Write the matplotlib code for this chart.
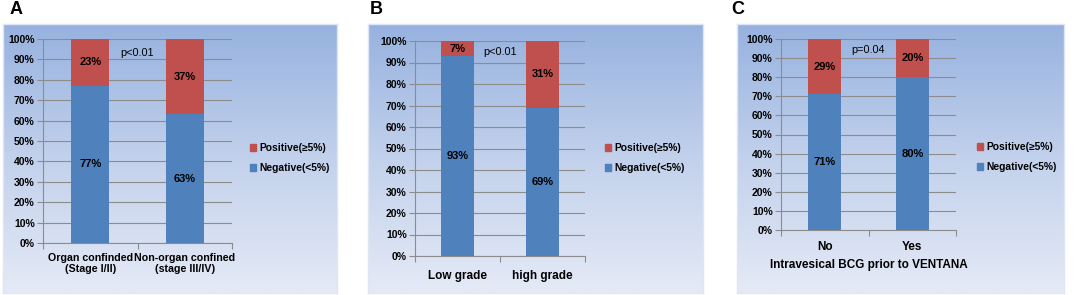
import numpy as np
import matplotlib.pyplot as plt
from matplotlib.colors import LinearSegmentedColormap
from matplotlib.patches import Patch

# data
cats_a = ['Organ confinded\n(Stage I/II)', 'Non-organ confined\n(stage III/IV)']
neg_a = [77, 63]
pos_a = [23, 37]

cats_b = ['Low grade', 'high grade']
neg_b = [93, 69]
pos_b = [7, 31]

cats_c = ['No', 'Yes']
neg_c = [71, 80]
pos_c = [29, 20]

pvals = ['p<0.01', 'p<0.01', 'p=0.04']
letters = ['A', 'B', 'C']
xlabels = ['', '', 'Intravesical BCG prior to VENTANA']

BLUE = '#4f81bd'
RED = '#c0504d'
W, H = 1074, 295

plt.rcParams['font.family'] = ['Liberation Sans', 'DejaVu Sans']

fig = plt.figure(figsize=(W / 100, H / 100), dpi=100)
fig.patch.set_facecolor('white')

grad = LinearSegmentedColormap.from_list('bg', ['#97b2df', '#c2d1ec', '#e5eaf6'])


def box(x0, y0, x1, y1):
    return [x0 / W, 1 - y1 / H, (x1 - x0) / W, (y1 - y0) / H]


# panel background boxes, plot area, legend position, letter position, p text y
panels = [
    dict(bg=(3, 24, 337, 293), ax=(43, 39, 232, 243), leg=(250, 158), let=(10, 10), py=93, w=0.4, pad=7, cfs=7.7),
    dict(bg=(368, 24, 703, 293), ax=(415, 41, 585, 256), leg=(605, 158), let=(370, 10), py=95, w=0.39, pad=10, cfs=8.5),
    dict(bg=(737, 24, 1064, 293), ax=(781, 39, 956, 230), leg=(977, 157), let=(731, 10), py=94, w=0.38, pad=8, cfs=8.5),
]
data = [(cats_a, neg_a, pos_a), (cats_b, neg_b, pos_b), (cats_c, neg_c, pos_c)]

for i, (p, (cats, neg, pos)) in enumerate(zip(panels, data)):
    bg = fig.add_axes(box(*p['bg']), zorder=0)
    bg.imshow(np.linspace(0, 1, 256).reshape(-1, 1), aspect='auto', cmap=grad,
              extent=[0, 1, 0, 1])
    bg.set_xticks([])
    bg.set_yticks([])
    for s in bg.spines.values():
        s.set_color('#dfe5f1')
        s.set_linewidth(1)

    ax = fig.add_axes(box(*p['ax']), zorder=1)
    ax.patch.set_alpha(0)
    x = np.arange(len(cats))
    ax.bar(x, neg, p['w'], color=BLUE, zorder=2, label='Negative(<5%)')
    ax.bar(x, pos, p['w'], bottom=neg, color=RED, zorder=2, label='Positive(≥5%)')
    for xi, n, q in zip(x, neg, pos):
        ax.text(xi, n / 2, f'{n}%', ha='center', va='center', fontsize=8,
                fontweight='bold', color='black', zorder=3)
        ax.text(xi, n + q / 2, f'{q}%', ha='center', va='center', fontsize=8,
                fontweight='bold', color='black', zorder=3)
    ax.text(0.5, p['py'], pvals[i], ha='center', va='center', fontsize=7.8,
            color='black', zorder=3)

    ax.set_xlim(-0.5, 1.5)
    ax.set_ylim(0, 100)
    ax.set_yticks(range(0, 101, 10))
    ax.set_yticklabels([f'{v}%' for v in range(0, 101, 10)], fontsize=7.5,
                       fontweight='bold')
    ax.yaxis.grid(True, color='#8c8c8c', linewidth=0.8, zorder=0)
    ax.set_axisbelow(True)
    ax.set_xticks([-0.5, 0.5, 1.5])
    ax.set_xticklabels([])
    ax.set_xticks(x, minor=True)
    ax.set_xticklabels(cats, minor=True, fontsize=p['cfs'], fontweight='bold',
                       linespacing=1.1)
    ax.tick_params(axis='x', which='minor', length=0, pad=p['pad'])
    ax.tick_params(axis='x', which='major', length=4, color='#8c8c8c')
    ax.tick_params(axis='y', length=4, color='#8c8c8c', pad=2)
    for s in ['top', 'right']:
        ax.spines[s].set_visible(False)
    for s in ['left', 'bottom']:
        ax.spines[s].set_color('#8c8c8c')
    if xlabels[i]:
        ax.set_xlabel(xlabels[i], fontsize=8.5, fontweight='bold', labelpad=4)

    handles = [Patch(color=RED, label='Positive(≥5%)'),
               Patch(color=BLUE, label='Negative(<5%)')]
    lx, ly = p['leg']
    fig.legend(handles=handles, loc='center left', bbox_to_anchor=(lx / W, 1 - ly / H),
               frameon=False, prop={'weight': 'bold', 'size': 7.4},
               handlelength=0.6, handleheight=0.6, handletextpad=0.3, labelspacing=1.0,
               borderpad=0, borderaxespad=0)

    lx, ly = p['let']
    fig.text(lx / W, 1 - ly / H, letters[i], fontsize=13, fontweight='bold',
             va='center', ha='left')

fig.savefig('out.png', dpi=100)
